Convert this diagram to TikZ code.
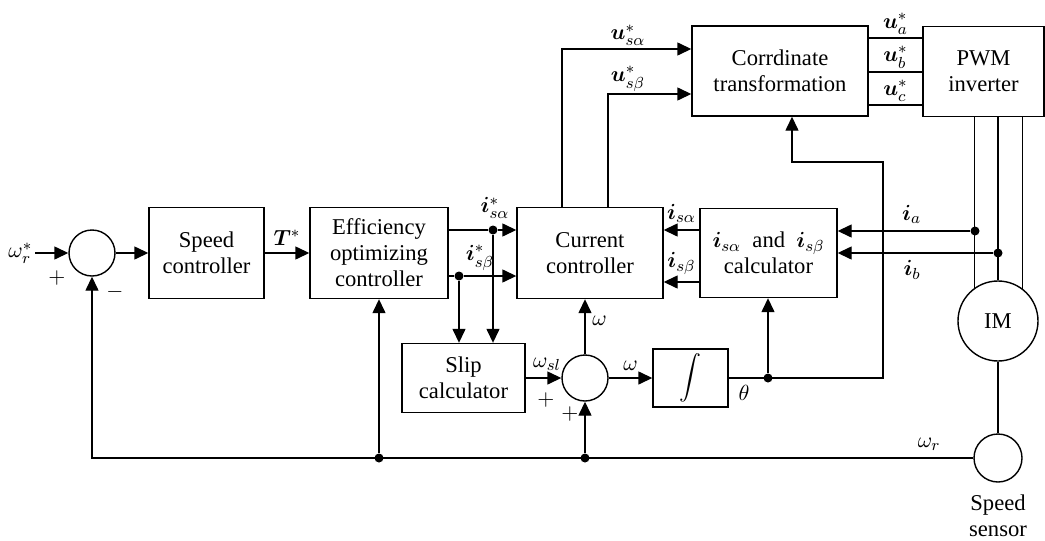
\documentclass[tikz,border=0pt]{standalone}
\usepackage{fontspec}
\setmainfont{Liberation Serif}
\usepackage{amsmath}
\usepackage{bm}
\usetikzlibrary{arrows.meta}
\begin{document}
\begin{tikzpicture}[x=0.5pt,y=-0.5pt,line width=0.7pt,
  >={Triangle[length=7pt,width=6.5pt]},
  font=\fontsize{11.3}{13}\selectfont,
  blk/.style={draw,align=center,inner sep=0pt},
  sumc/.style={draw,circle,minimum size=23pt,inner sep=0pt},
  dot/.style={circle,fill,inner sep=0pt,minimum size=4.5pt}]
\useasboundingbox (0,0) rectangle (1045,541);
% blocks
\node[sumc] (sum1) at (92,253) {};
\node[blk,minimum width=57.5pt,minimum height=45.5pt] (speed) at (206.5,253) {Speed\\controller};
\node[blk,minimum width=69pt,minimum height=45.5pt] (eff) at (379,253) {Efficiency\\optimizing\\controller};
\node[blk,minimum width=73pt,minimum height=45.5pt] (cur) at (590,253) {Current\\controller};
\node[blk,minimum width=68.5pt,minimum height=44.5pt] (calc) at (768.5,253) {$\bm{i}_{s\alpha}$ \ and \ $\bm{i}_{s\beta}$\\calculator};
\node[blk,minimum width=88pt,minimum height=45pt] (coord) at (780,71) {Corrdinate\\transformation};
\node[blk,minimum width=60.5pt,minimum height=45pt] (pwm) at (983.5,71.5) {PWM\\inverter};
\node[sumc,minimum size=40pt] (im) at (998,321) {IM};
\node[blk,minimum width=61.5pt,minimum height=34.5pt] (slip) at (463.5,378) {Slip\\calculator};
\node[sumc] (sum2) at (585,378) {};
\node[blk,minimum width=37.5pt,minimum height=29pt] (integ) at (690.5,378) {$\displaystyle\int$};
\node[sumc,minimum size=24pt] (sensor) at (998,458) {};
\node[align=center] (sname) at (998,516) {Speed\\sensor};
% branch points
\coordinate (in) at (35,253);
\node[dot] (da) at (493,230) {};
\node[dot] (db) at (459,276) {};
\node[dot] (dw1) at (379,458) {};
\node[dot] (dw2) at (585,458) {};
\node[dot] (dth) at (768,378) {};
\node[dot] (dia) at (975,231) {};
\node[dot] (dib) at (998,253) {};
\coordinate (thend) at (883,378);
\coordinate (tc) at (792,162);
\coordinate (ua) at (562,49);
\coordinate (ub) at (608,94);
% forward path
\draw[->] (in) -- (sum1.west);
\node[left,inner sep=1pt] (lin) at (in) {$\omega_r^*$};
\draw[->] (sum1.east) -- (speed.west);
\draw[->] (speed) -- (eff) node[midway,above] {$\bm{T}^*$};
\draw (eff.east |- da) -- (da);
\draw[->] (da) -- (cur.west |- da);
\draw (eff.east |- db) -- (db);
\draw[->] (db) -- (cur.west |- db);
\node (lisa) at (495,208) {$\bm{i}_{s\alpha}^*$};
\node (lisb) at (480,258) {$\bm{i}_{s\beta}^*$};
\draw[->] (da) -- (slip.north -| da);
\draw[->] (db) -- (slip.north -| db);
\draw[->] (cur.north -| ua) -- (ua) -- (coord.west |- ua);
\draw[->] (cur.north -| ub) -- (ub) -- (coord.west |- ub);
\node (lusa) at (628,35) {$\bm{u}_{s\alpha}^*$};
\node (lusb) at (628,79) {$\bm{u}_{s\beta}^*$};
\foreach \dy/\ph in {16.5/a,-0.5/b,-17/c}
  \draw ([yshift=\dy pt]coord.east) -- ([yshift=\dy pt]coord.east -| pwm.west)
    node[midway,above,inner sep=1.5pt] {$\bm{u}_\ph^*$};
\foreach \a in {125,90,53}
  \draw (pwm.south -| im.\a) -- (im.\a);
% current feedback
\draw[->] (dia) -- (calc.east |- dia) node[pos=0.44,above] {$\bm{i}_a$};
\draw[->] (dib) -- (calc.east |- dib) node[pos=0.52,below] {$\bm{i}_b$};
\draw[->] (calc.west |- da) -- (cur.east |- da) node[midway,above] {$\bm{i}_{s\alpha}$};
\draw[->] ([yshift=-14.5pt]calc.west) -- ([yshift=-14.5pt]calc.west -| cur.east)
  node[midway,above] {$\bm{i}_{s\beta}$};
% slip and angle
\draw[->] (slip) -- (sum2) node[pos=0.6,above] {$\omega_{sl}$};
\draw[->] (sum2) -- (sum2 |- cur.south) node[pos=0.6,right] {$\omega$};
\draw[->] (sum2) -- (integ) node[midway,above] {$\omega$};
\draw[->] (integ) -- node[pos=0.1,below] {$\theta$} (thend) |- (tc) -- (coord.south -| tc);
\draw[->] (dth) -- (calc.south -| dth);
% speed feedback
\draw (im) -- (sensor);
\draw[->] (sensor) -- node[pos=0.05,above] {$\omega_r$} (sum1 |- sensor) -- (sum1);
\draw[->] (dw1) -- (eff.south -| dw1);
\draw[->] (dw2) -- (sum2);
% signs
\node (p1) at (57,278) {$+$};
\node (m1) at (115,292) {$-$};
\node (p2) at (546,400) {$+$};
\node (p3) at (570,414) {$+$};
\end{tikzpicture}
\end{document}
